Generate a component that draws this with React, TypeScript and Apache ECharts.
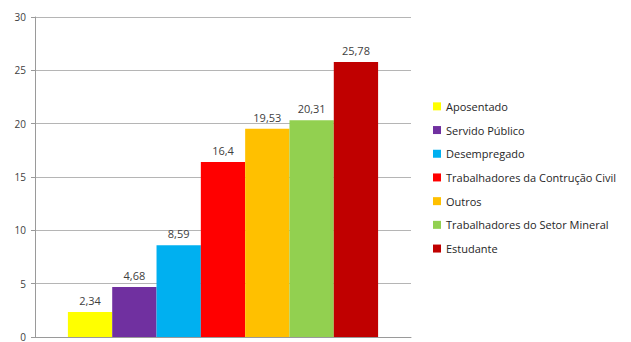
import React, { useEffect, useRef } from "react";
import * as echarts from "echarts";

const seriesNames = [
  "Aposentado",
  "Servido Público",
  "Desempregado",
  "Trabalhadores da Contrução Civil",
  "Outros",
  "Trabalhadores do Setor Mineral",
  "Estudante",
];
const seriesValues = [2.34, 4.68, 8.59, 16.4, 19.53, 20.31, 25.78];
const seriesColors = ["#FFFF00", "#7030A0", "#00B0F0", "#FF0000", "#FFC000", "#92D050", "#C00000"];
const categories = [""];

const FONT = "'Open Sans', 'DejaVu Sans', sans-serif";

export default function App() {
  const ref = useRef<HTMLDivElement>(null);
  useEffect(() => {
    if (!ref.current) return;
    const chart = echarts.init(ref.current, null, { renderer: "svg" });
    chart.setOption({
      animation: false,
      backgroundColor: "#ffffff",
      grid: { left: 35, right: 220, top: 17, bottom: 2, containLabel: false },
      legend: {
        orient: "vertical",
        left: 428,
        top: 95,
        itemWidth: 8,
        itemHeight: 8,
        itemGap: 11,
        icon: "rect",
        textStyle: { fontFamily: FONT, fontSize: 11, color: "#262626", lineHeight: 12.7 },
        data: seriesNames,
      },
      xAxis: {
        type: "category",
        data: categories,
        axisLine: { show: true, lineStyle: { color: "#9a9a9a", width: 1 } },
        axisTick: { show: false },
        axisLabel: { show: false },
      },
      yAxis: {
        type: "value",
        min: 0,
        max: 30,
        interval: 5,
        axisLine: { show: true, lineStyle: { color: "#9a9a9a", width: 1 } },
        axisTick: { show: true, length: 4, lineStyle: { color: "#9a9a9a" } },
        axisLabel: { fontFamily: FONT, fontSize: 10, color: "#404040", margin: 9 },
        splitLine: { show: true, lineStyle: { color: "#b5b5b5", width: 1 } },
      },
      series: seriesNames.map((name, i) => ({
        name,
        type: "bar",
        data: [seriesValues[i]],
        barGap: "0%",
        barCategoryGap: "17.5%",
        itemStyle: { color: seriesColors[i] },
        label: {
          show: true,
          position: "top",
          distance: 6,
          fontFamily: FONT,
          fontSize: 11,
          color: "#404040",
          formatter: (p: any) => String(p.value).replace(".", ","),
        },
      })),
    });
    return () => chart.dispose();
  }, []);
  return <div ref={ref} style={{ width: 631, height: 342, position: "absolute", left: 0, top: 0 }} />;
}
